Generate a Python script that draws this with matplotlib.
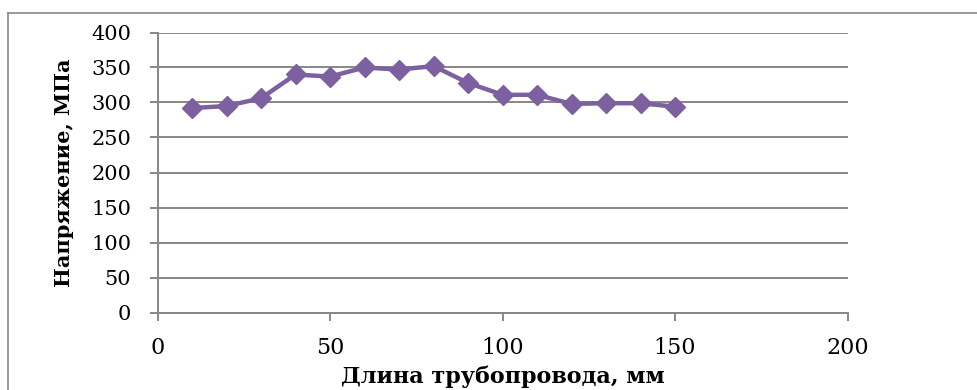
import matplotlib
matplotlib.use("Agg")
import matplotlib.pyplot as plt
from matplotlib.lines import Line2D

# ----- data -----
length_mm = [10, 20, 30, 40, 50, 60, 70, 80, 90, 100, 110, 120, 130, 140, 150]
stress_mpa = [292, 295, 306, 340, 337, 350, 347, 352, 328, 311, 311, 298, 299, 299, 294]
x_ticks = [0, 50, 100, 150, 200]
y_ticks = [0, 50, 100, 150, 200, 250, 300, 350, 400]

plt.rcParams["font.family"] = ["DejaVu Serif"]

W, H = 977, 390
fig = plt.figure(figsize=(W / 100, H / 100), dpi=100)
ax = fig.add_axes([157.5 / W, (H - 312.5) / H, 690 / W, 280 / H])

grey = "#878787"
ax.plot(length_mm, stress_mpa, color="#7D60A0", lw=3.2, marker="D", ms=10,
        solid_joinstyle="round", zorder=3)

ax.set_xlim(0, 200); ax.set_ylim(0, 400)
ax.set_xticks(x_ticks); ax.set_yticks(y_ticks)
ax.grid(axis="y", color=grey, lw=1.4)
ax.set_axisbelow(True)
for s in ["top", "right"]:
    ax.spines[s].set_visible(False)
for s in ["left", "bottom"]:
    ax.spines[s].set_color(grey); ax.spines[s].set_linewidth(1.4)
ax.tick_params(axis="both", direction="out", length=6, width=1.4, color=grey)
ax.tick_params(axis="y", labelsize=15, pad=13)
ax.tick_params(axis="x", labelsize=16, pad=12)

ax.set_xlabel("Длина трубопровода, мм", fontsize=16, fontweight="bold", labelpad=4)
ax.set_ylabel("Напряжение, МПа", fontsize=15, fontweight="bold", labelpad=12)

# chart-area frame (top and left edges visible)
fig.add_artist(Line2D([8 / W, 1], [1 - 13 / H, 1 - 13 / H], transform=fig.transFigure,
                      color=grey, lw=1.2))
fig.add_artist(Line2D([8 / W, 8 / W], [0, 1 - 13 / H], transform=fig.transFigure,
                      color=grey, lw=1.2))

fig.savefig("out.png", dpi=100)
